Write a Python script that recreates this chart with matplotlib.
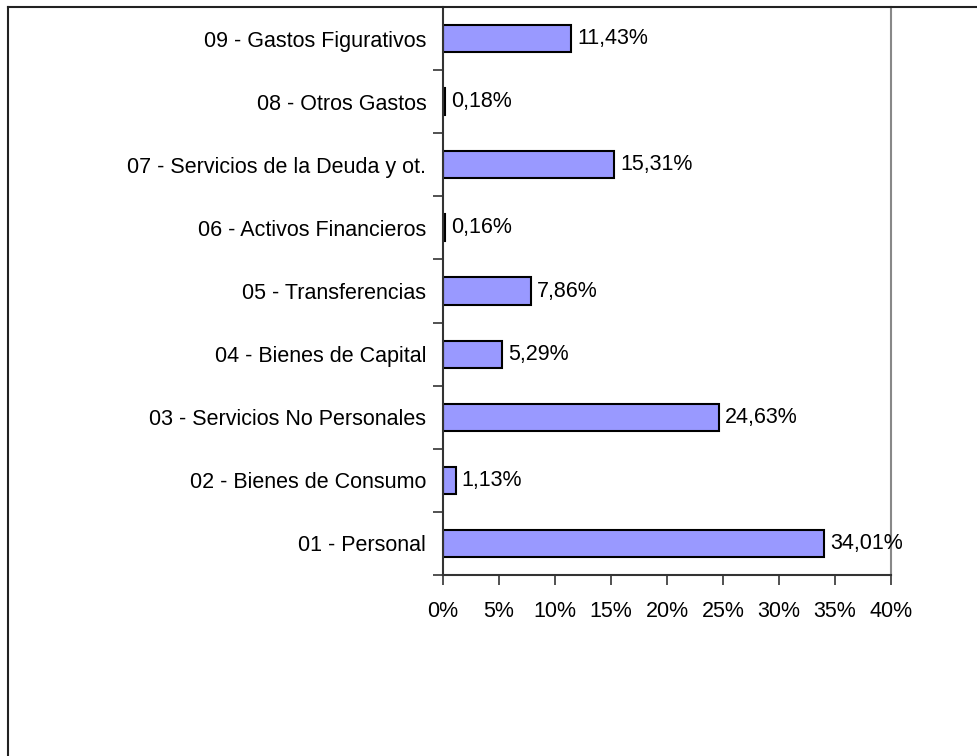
import matplotlib.pyplot as plt
from matplotlib.lines import Line2D
from matplotlib.ticker import MultipleLocator, FuncFormatter

plt.rcParams["font.family"] = ["Liberation Sans", "DejaVu Sans"]

# data (bottom to top)
categories = [
    "01 - Personal",
    "02 - Bienes de Consumo",
    "03 - Servicios No Personales",
    "04 - Bienes de Capital",
    "05 - Transferencias",
    "06 - Activos Financieros",
    "07 - Servicios de la Deuda y ot.",
    "08 - Otros Gastos",
    "09 - Gastos Figurativos",
]
values = [34.01, 1.13, 24.63, 5.29, 7.86, 0.16, 15.31, 0.18, 11.43]

fs = 15.5

fig = plt.figure(figsize=(9.78, 7.56), dpi=100)
ax = fig.add_axes([0.453, 0.2394, 0.458, 0.7513])

pos = list(range(len(categories)))
ax.barh(pos, values, height=0.43, color="#9999FF", edgecolor="black", linewidth=1.5)

for p, v in zip(pos, values):
    ax.text(v + 0.55, p, f"{v:.2f}%".replace(".", ","), va="center", ha="left", fontsize=fs)

ax.set_xlim(0, 40)
ax.set_ylim(-0.5, len(categories) - 0.5)
ax.xaxis.set_major_locator(MultipleLocator(5))
ax.xaxis.set_major_formatter(FuncFormatter(lambda x, _: f"{x:.0f}%"))

# category names as minor labels, ticks at band boundaries
ax.set_yticks([p - 0.5 for p in pos] + [len(categories) - 0.5])
ax.set_yticklabels([])
ax.set_yticks(pos, minor=True)
ax.set_yticklabels(categories, minor=True, fontsize=fs)
ax.tick_params(axis="y", which="minor", length=0, pad=12)
ax.tick_params(axis="y", which="major", length=7, width=1.2, color="#333333")
ax.tick_params(axis="x", length=7, width=1.2, color="#333333", labelsize=fs, pad=12)

ax.spines["top"].set_visible(False)
ax.spines["right"].set_color("#888888")
ax.spines["right"].set_linewidth(1.5)
ax.spines["left"].set_color("#333333")
ax.spines["left"].set_linewidth(1.5)
ax.spines["bottom"].set_color("#333333")
ax.spines["bottom"].set_linewidth(1.5)

# chart border (only top and left edges fall inside the image)
fig.add_artist(Line2D([0.0082, 1.0], [0.9914, 0.9914], transform=fig.transFigure,
                      color="#222222", linewidth=1.5))
fig.add_artist(Line2D([0.0082, 0.0082], [0.0, 0.9914], transform=fig.transFigure,
                      color="#222222", linewidth=1.5))

fig.savefig("out.png", dpi=100)
